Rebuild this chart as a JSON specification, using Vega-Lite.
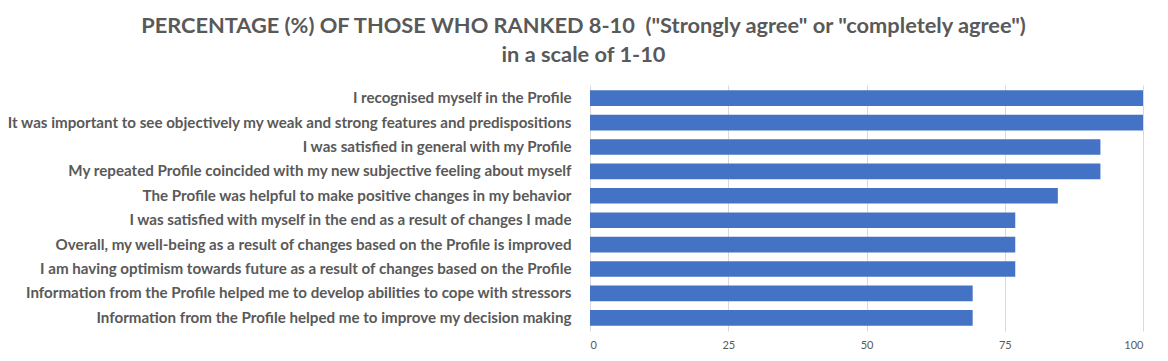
{
  "$schema": "https://vega.github.io/schema/vega-lite/v6.json",
  "width": 553,
  "height": 246,
  "autosize": {"type": "none"},
  "padding": {"left": 590, "top": 85, "right": 25, "bottom": 30},
  "background": "white",
  "title": {
    "text": ["PERCENTAGE (%) OF THOSE WHO RANKED 8-10 \u00a0(\"Strongly agree\" or \"completely agree\")", "in a scale of 1-10"],
    "anchor": "middle",
    "dx": -283,
    "font": "Lato",
    "fontSize": 21.8,
    "fontWeight": "bold",
    "color": "#595959",
    "lineHeight": 29,
    "offset": 18
  },
  "data": {
    "values": [
      {"statement": "I recognised myself in the Profile", "pct": 100},
      {"statement": "It was important to see objectively my weak and strong features and predispositions", "pct": 100},
      {"statement": "I was satisfied in general with my Profile", "pct": 92.3},
      {"statement": "My repeated Profile coincided with my new subjective feeling about myself", "pct": 92.3},
      {"statement": "The Profile was helpful to make positive changes in my behavior", "pct": 84.6},
      {"statement": "I was satisfied with myself in the end as a result of changes I made", "pct": 76.9},
      {"statement": "Overall, my well-being as a result of changes based on the Profile is improved", "pct": 76.9},
      {"statement": "I am having optimism towards future as a result of changes based on the Profile", "pct": 76.9},
      {"statement": "Information from the Profile helped me to develop abilities to cope with stressors", "pct": 69.2},
      {"statement": "Information from the Profile helped me to improve my decision making", "pct": 69.2}
    ]
  },
  "mark": {"type": "bar", "color": "#4472C4"},
  "encoding": {
    "y": {
      "field": "statement",
      "type": "nominal",
      "sort": null,
      "title": null,
      "scale": {"paddingInner": 0.36, "paddingOuter": 0.22},
      "axis": {
        "domain": false,
        "ticks": false,
        "labelPadding": 19,
        "labelLimit": 0,
        "labelFont": "Lato",
        "labelFontSize": 15.15,
        "labelFontWeight": "bold",
        "labelColor": "#595959"
      }
    },
    "x": {
      "field": "pct",
      "type": "quantitative",
      "title": null,
      "scale": {"domain": [0, 100], "nice": false},
      "axis": {
        "values": [0, 25, 50, 75, 100],
        "domain": false,
        "ticks": false,
        "grid": true,
        "gridColor": "#d9d9d9",
        "labelPadding": 8,
        "labelFont": "Lato",
        "labelFontSize": 11,
        "labelColor": "#595959"
      }
    }
  },
  "config": {
    "view": {"stroke": null}
  }
}
